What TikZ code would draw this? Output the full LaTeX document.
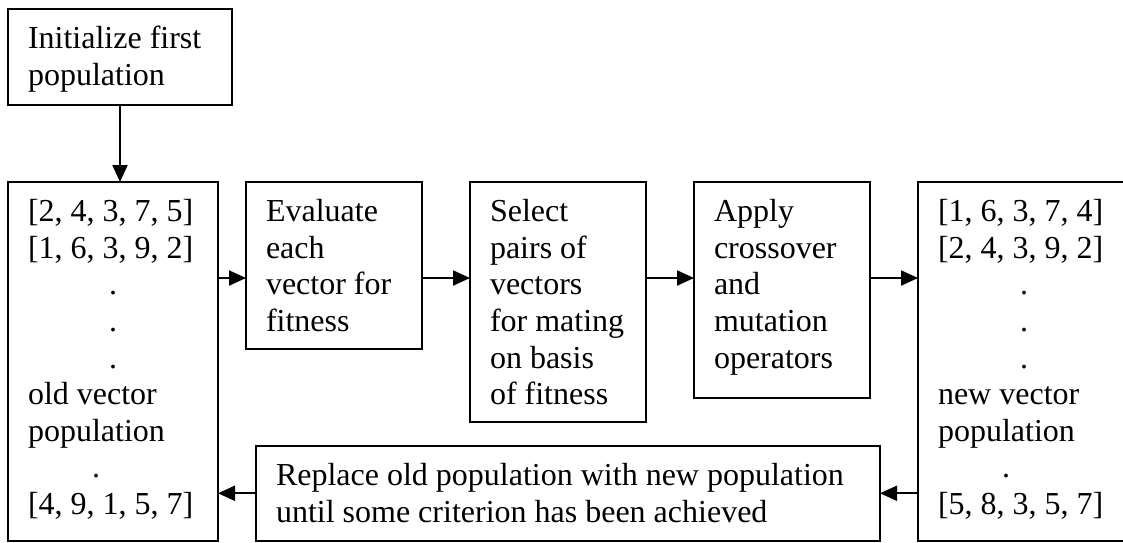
\documentclass[tikz,border=0pt]{standalone}
\usepackage{fontspec}
\setmainfont{Liberation Serif}
\usetikzlibrary{arrows.meta}
% text at the top of a box
\newcommand{\boxtext}[3]{\parbox[c][#2][t]{#1}{\raggedright\strut #3}}
\tikzset{
  stage/.style={draw, line width=0.8pt, anchor=north west, inner xsep=8pt, inner ysep=5.55pt, outer sep=0pt},
  flow/.style={line width=0.8pt, -{Triangle[length=6.8pt,width=6pt]}}
}
\begin{document}
\begin{tikzpicture}[x=0.4pt, y=-0.4pt, font=\fontsize{12.8pt}{14.65pt}\selectfont]
\useasboundingbox (0,0) rectangle (1123,542);
\clip (0,0) rectangle (1123,542);
% start
\node[stage] (init) at (8,9) {\boxtext{73.6pt}{27.3pt}{Initialize first\\ population}};
% old population
\node[stage] (old) at (8,182) {\boxtext{68pt}{132.3pt}{[2, 4, 3, 7, 5]\\ {[1, 6, 3, 9, 2]}\\
  \makebox[\linewidth]{.}\\ \makebox[\linewidth]{.}\\ \makebox[\linewidth]{.}\\
  old vector\\ population\\ \hphantom{popu}.\\ {[4, 9, 1, 5, 7]}}};
% steps
\node[stage] (eval) at (246,182) {\boxtext{54.4pt}{55.7pt}{Evaluate\\ each\\ vector for\\ fitness}};
\node[stage] (select) at (470,182) {\boxtext{54.4pt}{84.9pt}{Select\\ pairs of\\ vectors\\ for mating\\ on basis\\ of fitness}};
\node[stage] (apply) at (694,182) {\boxtext{54.4pt}{75.3pt}{Apply\\ crossover\\ and\\ mutation\\ operators}};
% new population
\node[stage] (new) at (918,182) {\boxtext{68.8pt}{132.3pt}{[1, 6, 3, 7, 4]\\ {[2, 4, 3, 9, 2]}\\
  \makebox[\linewidth]{.}\\ \makebox[\linewidth]{.}\\ \makebox[\linewidth]{.}\\
  new vector\\ population\\ \hphantom{popu}.\\ {[5, 8, 3, 5, 7]}}};
% replace
\node[stage] (replace) at (256,446) {\boxtext{233.6pt}{26.7pt}{Replace old population with new population\\ until some criterion has been achieved}};
% arrows
\coordinate (row) at (0,278);
\draw[flow] (init.south) -- (init.south |- old.north);
\draw[flow] (old.east |- row) -- (eval.west |- row);
\draw[flow] (eval.east |- row) -- (select.west |- row);
\draw[flow] (select.east |- row) -- (apply.west |- row);
\draw[flow] (apply.east |- row) -- (new.west |- row);
\draw[flow] (new.west |- replace.east) -- (replace.east);
\draw[flow] (replace.west) -- (old.east |- replace.west);
\end{tikzpicture}
\end{document}
